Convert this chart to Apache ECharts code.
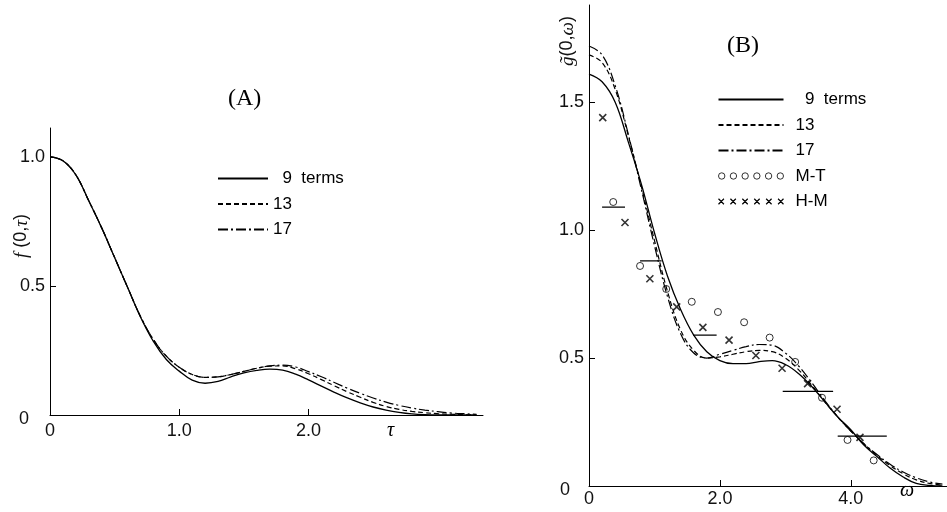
<html>
<head>
    <meta charset="utf-8">
    <title>f(0,τ) and g(0,ω)</title>
    <script src="https://cdn.jsdelivr.net/npm/echarts@6/dist/echarts.min.js"></script>
    <style>
        html, body { margin: 0; padding: 0; background: #fff; }
        #main { width: 947px; height: 512px; }
    </style>
</head>
<body>
    <div id="main"></div>
    <script>
        // panel (A): f(0,tau)
        var tau = [0, 0.1, 0.2, 0.3, 0.4, 0.5, 0.6, 0.7, 0.8, 0.9, 1.0, 1.1, 1.2, 1.3, 1.4, 1.5, 1.6,
                   1.7, 1.8, 1.9, 2.0, 2.1, 2.2, 2.3, 2.4, 2.5, 2.6, 2.7, 2.8, 2.9, 3.0, 3.1, 3.2, 3.3];
        var f9  = [1.000, 0.985, 0.930, 0.830, 0.725, 0.610, 0.495, 0.380, 0.285, 0.215, 0.170, 0.135,
                   0.123, 0.130, 0.148, 0.163, 0.173, 0.178, 0.174, 0.158, 0.136, 0.112, 0.088, 0.066,
                   0.047, 0.031, 0.019, 0.010, 0.004, 0.001, 0, 0, 0, 0];
        var f13 = [1.000, 0.985, 0.930, 0.830, 0.725, 0.610, 0.495, 0.382, 0.292, 0.228, 0.185, 0.157,
                   0.146, 0.148, 0.157, 0.169, 0.181, 0.189, 0.190, 0.179, 0.160, 0.137, 0.113, 0.090,
                   0.069, 0.049, 0.033, 0.022, 0.014, 0.009, 0.005, 0.003, 0.001, 0];
        var f17 = [1.000, 0.985, 0.930, 0.830, 0.725, 0.610, 0.495, 0.382, 0.292, 0.228, 0.185, 0.157,
                   0.146, 0.148, 0.157, 0.169, 0.181, 0.190, 0.193, 0.186, 0.168, 0.148, 0.126, 0.104,
                   0.084, 0.066, 0.050, 0.037, 0.027, 0.019, 0.013, 0.008, 0.005, 0.003];
        var tauTicks = [0, 1, 2];
        var fTicks = [0, 0.5, 1];

        // panel (B): g(0,omega)
        var omega = [0, 0.2, 0.4, 0.6, 0.8, 1.0, 1.2, 1.4, 1.6, 1.8, 2.0, 2.2, 2.4, 2.6, 2.8, 3.0,
                     3.2, 3.4, 3.6, 3.8, 4.0, 4.2, 4.4, 4.6, 4.8, 5.0, 5.2, 5.4];
        var g9  = [1.61, 1.58, 1.50, 1.345, 1.18, 0.99, 0.82, 0.69, 0.59, 0.525, 0.49, 0.478, 0.478,
                   0.486, 0.49, 0.475, 0.44, 0.39, 0.33, 0.27, 0.22, 0.16, 0.115, 0.07, 0.035, 0.01, 0.002, 0];
        var g13 = [1.685, 1.655, 1.55, 1.37, 1.17, 0.96, 0.76, 0.61, 0.53, 0.50, 0.505, 0.515, 0.525,
                   0.53, 0.525, 0.50, 0.455, 0.395, 0.33, 0.27, 0.215, 0.165, 0.12, 0.08, 0.048, 0.024, 0.01, 0.003];
        var g17 = [1.72, 1.685, 1.565, 1.375, 1.16, 0.94, 0.74, 0.595, 0.52, 0.50, 0.515, 0.53, 0.545,
                   0.553, 0.55, 0.52, 0.47, 0.405, 0.335, 0.27, 0.215, 0.165, 0.123, 0.085, 0.055, 0.032, 0.016, 0.007];
        var mtOmega = [0.37, 0.78, 1.18, 1.57, 1.97, 2.37, 2.76, 3.15, 3.56, 3.95, 4.35];
        var mtValue = [1.11, 0.86, 0.77, 0.72, 0.68, 0.64, 0.58, 0.485, 0.345, 0.18, 0.10];
        var hmOmega = [0.21, 0.55, 0.93, 1.34, 1.74, 2.14, 2.55, 2.95, 3.34, 3.79, 4.14];
        var hmValue = [1.44, 1.03, 0.81, 0.70, 0.62, 0.57, 0.51, 0.46, 0.40, 0.30, 0.19];
        var barFrom  = [0.20, 0.78, 1.59, 2.96, 3.80];
        var barTo    = [0.55, 1.11, 1.95, 3.73, 4.55];
        var barValue = [1.09, 0.88, 0.59, 0.37, 0.195];
        var omegaTicks = [0, 2, 4];
        var gTicks = [0, 0.5, 1, 1.5];

        var names = ['  9  terms', '13', '17'];

        function zip(xs, ys) {
            var out = [];
            for (var i = 0; i < xs.length; i++) {
                out.push([xs[i], ys[i]]);
            }
            return out;
        }

        function fmt(v) {
            return v === 0 ? '0' : v.toFixed(1);
        }
        // the zero on the vertical axes sits further out to the left
        function fmtY(v) {
            return v === 0 ? '{z|0}' : v.toFixed(1);
        }

        var circlesIcon = 'path://';
        var crossesIcon = 'path://';
        for (var i = 0; i < 6; i++) {
            var cx = 3 + i * 11;
            circlesIcon += 'M' + (cx - 3) + ',3a3,3 0 1,0 6,0a3,3 0 1,0 -6,0';
            var x0 = i * 11 + 0.5;
            crossesIcon += 'M' + x0 + ',0.5L' + (x0 + 5) + ',5.5M' + (x0 + 5) + ',0.5L' + x0 + ',5.5';
        }

        var tickFont = { color: '#111', fontSize: 18, fontFamily: 'Liberation Sans' };
        var solid = { color: '#000', width: 1.3, type: 'solid' };
        var dashed = { color: '#000', width: 1.2, type: [5, 3] };
        var dashDot = { color: '#000', width: 1.2, type: [10, 3, 2, 3] };

        function axisX(grid, max, margin, labels) {
            return {
                type: 'value', gridIndex: grid, min: 0, max: max,
                axisLine: { show: true, onZero: false, lineStyle: { color: '#000', width: 1 } },
                axisTick: { show: true, inside: true, length: 6, customValues: labels.slice(1), lineStyle: { color: '#000' } },
                axisLabel: Object.assign({ margin: margin, formatter: fmt, customValues: labels }, tickFont),
                splitLine: { show: false }
            };
        }

        function axisY(grid, max, ticks, zeroPad) {
            return {
                type: 'value', gridIndex: grid, min: 0, max: max,
                axisLine: { show: true, onZero: false, lineStyle: { color: '#000', width: 1 } },
                axisTick: { show: true, inside: true, length: 6, customValues: ticks.slice(1), lineStyle: { color: '#000' } },
                axisLabel: Object.assign({
                    margin: 5, formatter: fmtY, customValues: ticks,
                    rich: { z: { fontSize: 18, fontFamily: 'Liberation Sans', color: '#111', padding: [8, zeroPad, 0, 0] } }
                }, tickFont),
                splitLine: { show: false }
            };
        }

        function curve(name, data, style, idx) {
            return {
                name: name, type: 'line', data: data, xAxisIndex: idx, yAxisIndex: idx,
                symbol: 'none', smooth: 0.4, lineStyle: style, itemStyle: { color: '#000' },
                silent: true, animation: false, z: 3
            };
        }

        var series = [
            curve(names[0], zip(tau, f9), solid, 0),
            curve(names[1], zip(tau, f13), dashed, 0),
            curve(names[2], zip(tau, f17), dashDot, 0),
            curve(names[0], zip(omega, g9), solid, 1),
            curve(names[1], zip(omega, g13), dashed, 1),
            curve(names[2], zip(omega, g17), dashDot, 1),
            {
                name: 'M-T', type: 'scatter', data: zip(mtOmega, mtValue), xAxisIndex: 1, yAxisIndex: 1,
                symbol: 'circle', symbolSize: 7,
                itemStyle: { color: 'rgba(255,255,255,0)', borderColor: '#000', borderWidth: 1 },
                silent: true, animation: false, z: 4
            },
            {
                name: 'H-M', type: 'scatter', data: zip(hmOmega, hmValue), xAxisIndex: 1, yAxisIndex: 1,
                symbol: 'path://M0,0L10,10M10,0L0,10', symbolSize: 7,
                itemStyle: { color: 'none', borderColor: '#000', borderWidth: 1.6 },
                silent: true, animation: false, z: 4
            }
        ];
        for (var b = 0; b < barFrom.length; b++) {
            series.push({
                name: 'bar' + b, type: 'line', xAxisIndex: 1, yAxisIndex: 1, symbol: 'none',
                data: [[barFrom[b], barValue[b]], [barTo[b], barValue[b]]],
                lineStyle: { color: '#000', width: 1.3 }, silent: true, animation: false
            });
        }

        var legendText = { color: '#000', fontSize: 17, fontFamily: 'Liberation Sans', lineHeight: 17 };

        var option = {
            backgroundColor: '#fff',
            animation: false,
            grid: [
                { left: 50, top: 128, width: 433, height: 287 },
                { left: 589, top: 5, width: 358, height: 481 }
            ],
            xAxis: [axisX(0, 3.35, 7, tauTicks), axisX(1, 5.47, 4, omegaTicks)],
            yAxis: [axisY(0, 1.112, fTicks, 16), axisY(1, 1.88, gTicks, 14)],
            legend: [
                {
                    orient: 'vertical', left: 217, top: 170, padding: 0, itemWidth: 50, itemHeight: 17, itemGap: 8.5,
                    selectedMode: false, textStyle: legendText, itemStyle: { opacity: 0 }, data: names
                },
                {
                    orient: 'vertical', left: 716, top: 91, padding: 0, itemWidth: 65, itemHeight: 17, itemGap: 8.5,
                    selectedMode: false, itemStyle: { opacity: 0 },
                    textStyle: Object.assign({ padding: [0, 0, 0, 7] }, legendText),
                    data: [names[0], names[1], names[2],
                        { name: 'M-T', icon: circlesIcon, itemStyle: { opacity: 1, color: '#fff', borderColor: '#000', borderWidth: 0.8 } },
                        { name: 'H-M', icon: crossesIcon, itemStyle: { opacity: 1, color: 'none', borderColor: '#000', borderWidth: 1.2 } }]
                }
            ],
            graphic: [
                { type: 'text', left: 228, top: 87, style: { text: '(A)', font: '24px "Liberation Serif"', fill: '#000' } },
                { type: 'text', left: 727, top: 34, style: { text: '(B)', font: '24px "Liberation Serif"', fill: '#000' } },
                { type: 'text', left: 387, top: 421, style: { text: 'τ', font: 'italic 20px "Liberation Serif"', fill: '#000' } },
                { type: 'text', left: 900, top: 481, style: { text: 'ω', font: 'italic 20px "Liberation Serif"', fill: '#000' } },
                {
                    type: 'text', x: 12, y: 258, rotation: Math.PI / 2,
                    style: {
                        text: '{i|f} (0,{i|τ})', fill: '#111', font: '18px "Liberation Sans"',
                        rich: { i: { fontStyle: 'italic', fontFamily: 'Liberation Serif', fontSize: 19 } }
                    }
                },
                {
                    type: 'text', x: 558, y: 66, rotation: Math.PI / 2,
                    style: {
                        text: '{i|g\u0303}(0,{i|ω})', fill: '#111', font: '18px "Liberation Sans"',
                        rich: { i: { fontStyle: 'italic', fontFamily: 'Liberation Serif', fontSize: 19 } }
                    }
                }
            ],
            series: series
        };

        var myChart = echarts.init(document.getElementById('main'));
        myChart.setOption(option);
    </script>
</body>
</html>
